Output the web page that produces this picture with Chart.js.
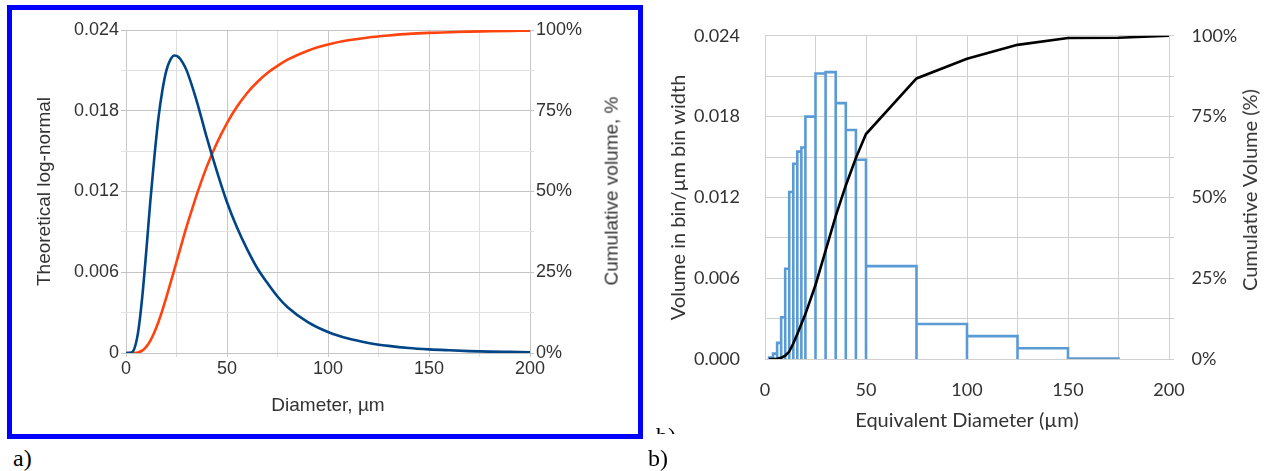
<!DOCTYPE html>
<html><head><meta charset="utf-8">
<script src="https://cdn.jsdelivr.net/npm/chart.js@4"></script>
<style>
html,body{margin:0;padding:0;background:#fff;}
body{width:1266px;height:471px;position:relative;overflow:hidden;}
#frameA{position:absolute;left:7px;top:5px;width:626px;height:424px;border:5px solid #0000ff;}
#cA{position:absolute;left:12px;top:10px;}
#cB{position:absolute;left:645px;top:0px;}
.lbl{position:absolute;font-family:"Liberation Serif","DejaVu Serif",serif;font-size:24px;line-height:24px;color:#000;}
#clipB{position:absolute;left:656px;top:420px;width:30px;height:14px;overflow:hidden;}
#clipB span{position:absolute;left:0;top:4px;font-family:"Liberation Serif",serif;font-size:24px;line-height:24px;color:#000;white-space:nowrap;}
.rtitle{position:absolute;white-space:nowrap;color:#333;transform:translate(-50%,-50%) rotate(-90deg);line-height:1.2;}
</style>
</head><body>
<div id="frameA"></div>
<canvas id="cA" width="626" height="424"></canvas>
<canvas id="cB" width="621" height="445"></canvas>
<div class="rtitle" style="left:612px;top:191px;font-family:'Liberation Sans',sans-serif;font-size:19px;">Cumulative volume, %</div>
<div class="rtitle" style="left:1249px;top:190px;font-family:Lato,sans-serif;font-size:20px;">Cumulative Volume (%)</div>
<div id="clipB"><span>b)</span></div>
<div class="lbl" style="left:13px;top:446px;">a)</div>
<div class="lbl" style="left:648px;top:446px;">b)</div>
<script>
// ---- Panel a data ----
const diamA = [0,2,4,6,8,10,12,14,16,18,20,22,24,26,28,30,33,36,40,45,50,55,60,65,70,75,80,90,100,110,120,130,140,150,160,170,180,190,200];
const logNormalA = [0,0.00001,0.00027,0.00155,0.0041,0.0075,0.0112,0.0145,0.0174,0.0195,0.0210,0.0218,0.0221,0.0220,0.0216,0.0210,0.0197,0.0182,0.0160,0.0135,0.0112,0.0093,0.0077,0.0063,0.0052,0.0042,0.0034,0.0023,0.00156,0.00107,0.00075,0.00053,0.00037,0.00027,0.00020,0.00014,0.00010,0.00008,0.00006];
const cumVolumeA = [0,0,0.02,0.18,0.72,1.88,3.75,6.33,9.53,13.2,17.3,21.6,26.0,30.4,34.8,39.1,45.1,50.8,57.7,65.0,71.2,76.3,80.5,83.9,86.7,88.9,90.8,93.6,95.5,96.8,97.7,98.3,98.8,99.1,99.3,99.5,99.6,99.7,99.8];

// ---- Panel b data ----
const binEdgesB = [2,4,6,8,10,12,14,16,18,20,25,30,35,40,45,50,75,100,125,150,175];
const binHeightsB = [0.0001,0.0004,0.0012,0.0031,0.0067,0.0124,0.0145,0.0154,0.0157,0.0180,0.0212,0.0213,0.0190,0.0170,0.0148,0.0069,0.0026,0.0017,0.0008,0.00004];
const cumDiamB = [2,4,6,8,10,12,14,16,18,20,25,30,35,40,45,50,75,100,125,150,175,200];
const cumVolumeB = [0,0.02,0.1,0.36,1.0,2.3,4.8,7.7,10.8,13.9,22.9,33.5,44.2,53.7,62.2,69.6,86.8,92.9,97.2,99.3,99.4,100];

// tick labels
const xTickLabels = [0,50,100,150,200];
const yTickLabelsA = ['0','0.006','0.012','0.018','0.024'];
const yTickLabelsB = ['0.000','0.006','0.012','0.018','0.024'];
const pctTickLabels = ['0%','25%','50%','75%','100%'];

const pts = (xs, ys) => xs.map((x,i)=>({x:x, y:ys[i]}));

// ----- Chart A -----
const fontA = 'Liberation Sans';
new Chart(document.getElementById('cA'), {
  type: 'line',
  data: { datasets: [
    { data: pts(diamA, logNormalA), yAxisID:'y', borderColor:'#004586', borderWidth:2.6, pointRadius:0, cubicInterpolationMode:'monotone', fill:false },
    { data: pts(diamA, cumVolumeA), yAxisID:'y2', borderColor:'#ff420e', borderWidth:2.6, pointRadius:0, cubicInterpolationMode:'monotone', fill:false }
  ]},
  options: {
    responsive:false, animation:false, devicePixelRatio:1,
    layout:{padding:{top:20,left:0,right:0,bottom:0}},
    plugins:{legend:{display:false}, tooltip:{enabled:false}},
    scales:{
      x:{ type:'linear', min:0, max:200,
        ticks:{ stepSize:25, padding:1, color:'#333', font:{family:fontA,size:18},
          callback:(v)=> xTickLabels.includes(v) ? String(v) : '' },
        grid:{ color:(c)=> (c.tick && c.tick.value%50===0) ? '#c8c8c8' : '#dedede', drawTicks:true, tickLength:4, lineWidth:1 },
        border:{display:false},
        title:{display:true, text:'Diameter, µm', color:'#333', font:{family:fontA,size:19}, padding:{top:0,bottom:16.6}},
        afterFit:(s)=>{s.height=81;}
      },
      y:{ type:'linear', position:'left', min:0, max:0.024,
        ticks:{ stepSize:0.003, padding:2, color:'#333', font:{family:fontA,size:18},
          callback:(v,i)=> i%2===0 ? yTickLabelsA[i/2] : '' },
        grid:{ color:(c)=> (c.index%2===0) ? '#c4c4c4' : '#e2e2e2', drawTicks:true, tickLength:5 },
        border:{display:false},
        title:{display:true, text:'Theoretical log-normal', color:'#333', font:{family:fontA,size:19}, padding:{top:21.6,bottom:0}},
        afterFit:(s)=>{s.width=114;}
      },
      y2:{ type:'linear', position:'right', min:0, max:100,
        ticks:{ stepSize:12.5, padding:2, color:'#333', font:{family:fontA,size:18},
          callback:(v,i)=> i%2===0 ? pctTickLabels[i/2] : '' },
        grid:{ drawOnChartArea:false, color:(c)=> (c.index%2===0) ? '#c4c4c4' : '#e2e2e2', drawTicks:true, tickLength:4 },
        border:{display:false},
        title:{display:false},
        afterFit:(s)=>{s.width=108;}
      }
    }
  }
});

// ----- Chart B -----
const outline = [];
for (let i=0;i<binHeightsB.length;i++){
  const l=binEdgesB[i], r=binEdgesB[i+1], h=binHeightsB[i];
  outline.push({x:l,y:0},{x:l,y:h},{x:r,y:h},{x:r,y:0});
}
const fontB = 'Lato';
new Chart(document.getElementById('cB'), {
  type: 'line',
  data: { datasets: [
    { data: pts(cumDiamB, cumVolumeB), yAxisID:'y2', borderColor:'#000', borderWidth:2.6, pointRadius:0, tension:0, fill:false },
    { data: outline, yAxisID:'y', borderColor:'#5b9bd5', borderWidth:2.6, pointRadius:0, tension:0, fill:false, borderJoinStyle:'miter' }
  ]},
  options: {
    responsive:false, animation:false, devicePixelRatio:1,
    layout:{padding:{top:33,left:0,right:0,bottom:0}},
    plugins:{legend:{display:false}, tooltip:{enabled:false}},
    scales:{
      x:{ type:'linear', min:0, max:200,
        ticks:{ stepSize:25, padding:20, color:'#333', font:{family:fontB,size:18},
          callback:(v)=> xTickLabels.includes(v) ? String(v) : '' },
        grid:{ color:'#d0d0d0', drawTicks:false, lineWidth:1 },
        border:{display:false},
        title:{display:true, text:'Equivalent Diameter (µm)', color:'#333', font:{family:fontB,size:20}, padding:{top:0,bottom:12}},
        afterFit:(s)=>{s.height=86;}
      },
      y:{ type:'linear', position:'left', min:0, max:0.024,
        ticks:{ stepSize:0.003, padding:25, color:'#333', font:{family:fontB,size:18},
          callback:(v,i)=> i%2===0 ? yTickLabelsB[i/2] : '' },
        grid:{ color:'#d0d0d0', drawTicks:false },
        border:{display:false},
        title:{display:true, text:'Volume in bin/µm bin width', color:'#333', font:{family:fontB,size:20}, padding:{top:22,bottom:0}},
        afterFit:(s)=>{s.width=120;}
      },
      y2:{ type:'linear', position:'right', min:0, max:100,
        ticks:{ stepSize:12.5, padding:17.5, color:'#333', font:{family:fontB,size:18},
          callback:(v,i)=> i%2===0 ? pctTickLabels[i/2] : '' },
        grid:{ drawOnChartArea:false, color:'#d0d0d0', drawTicks:true, tickLength:5 },
        border:{display:false},
        title:{display:false},
        afterFit:(s)=>{s.width=97;}
      }
    }
  }
});
</script>
</body></html>
